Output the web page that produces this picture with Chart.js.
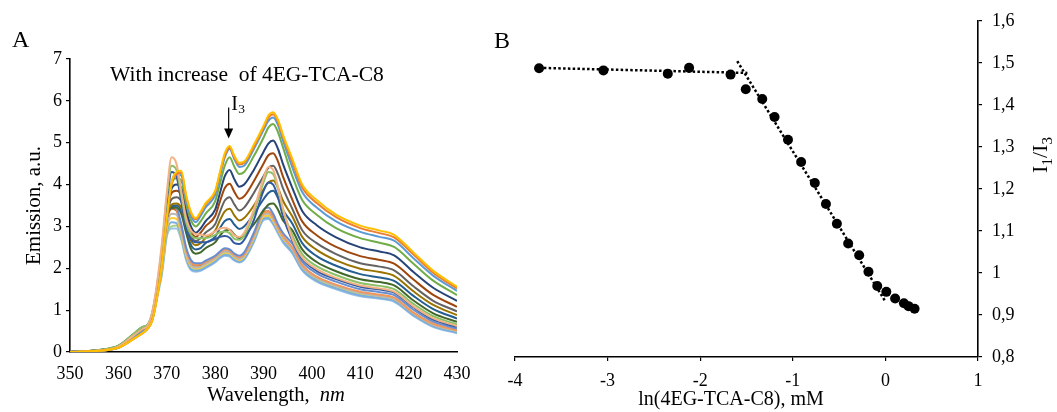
<!DOCTYPE html>
<html>
<head>
<meta charset="utf-8">
<title>Pyrene emission and I1/I3 ratio</title>
<script src="https://cdn.jsdelivr.net/npm/chart.js@4.4.1/dist/chart.umd.min.js"></script>
<style>
    html, body { margin: 0; padding: 0; background: #fff; }
    #wrap { position: relative; width: 1057px; height: 412px; overflow: hidden; }
    #panelA { position: absolute; left: 0; top: 0; }
    #panelB { position: absolute; left: 490px; top: 0; }
</style>
</head>
<body>
<div id="wrap">
    <canvas id="panelA" width="485" height="412"></canvas>
    <canvas id="panelB" width="567" height="412"></canvas>
</div>
<script>
const SERIF = "'Liberation Serif', 'Times New Roman', serif";

// Panel A - emission spectra (nm -> a.u.)
const wavelengths = [350, 356, 360, 363, 365, 366, 367, 368, 369, 370, 371, 372, 373, 374, 375, 376, 377, 378, 380, 381,
    382, 383, 384, 385, 386, 388, 390, 391, 392, 393, 394, 396, 398, 401, 405, 410, 414, 417, 421, 425, 430];

const spectrum01 = [0, 0.03, 0.1, 0.3, 0.45, 0.55, 0.75, 1.3, 2.1, 3.2, 4.05, 4.3, 4.33, 3.75, 3.35, 3.2, 3.35, 3.55, 3.85, 4.3,
    4.75, 4.92, 4.68, 4.52, 4.55, 4.95, 5.4, 5.65, 5.73, 5.55, 5.2, 4.6, 4.0, 3.63, 3.28, 3.02, 2.9, 2.8, 2.38, 1.95, 1.56];
const spectrum02 = [0, 0.03, 0.1, 0.3, 0.45, 0.55, 0.75, 1.3, 2.1, 3.15, 4.0, 4.25, 4.28, 3.72, 3.32, 3.17, 3.32, 3.52, 3.82, 4.27,
    4.7, 4.88, 4.64, 4.48, 4.52, 4.9, 5.36, 5.6, 5.68, 5.5, 5.15, 4.52, 3.93, 3.56, 3.22, 2.96, 2.84, 2.74, 2.33, 1.9, 1.52];
const spectrum03 = [0, 0.03, 0.1, 0.32, 0.48, 0.57, 0.78, 1.35, 2.15, 3.2, 4.05, 4.25, 4.22, 3.65, 3.25, 3.1, 3.25, 3.45, 3.75, 4.2,
    4.65, 4.85, 4.6, 4.42, 4.45, 4.85, 5.3, 5.52, 5.6, 5.42, 5.06, 4.4, 3.82, 3.45, 3.12, 2.87, 2.75, 2.66, 2.24, 1.83, 1.46];
const spectrum04 = [0, 0.04, 0.12, 0.35, 0.55, 0.6, 0.8, 1.4, 2.2, 3.2, 4.0, 4.15, 4.1, 3.55, 3.15, 3.0, 3.12, 3.3, 3.6, 4.02,
    4.45, 4.65, 4.42, 4.25, 4.3, 4.68, 5.12, 5.36, 5.45, 5.25, 4.9, 4.19, 3.63, 3.28, 2.96, 2.72, 2.61, 2.51, 2.11, 1.71, 1.36];
const spectrum05 = [0, 0.04, 0.12, 0.36, 0.55, 0.62, 0.82, 1.45, 2.3, 3.3, 3.9, 4.0, 3.92, 3.4, 3.0, 2.85, 2.95, 3.12, 3.4, 3.8,
    4.2, 4.35, 4.12, 3.95, 4.0, 4.35, 4.78, 4.98, 5.05, 4.85, 4.5, 3.91, 3.37, 3.03, 2.74, 2.5, 2.4, 2.31, 1.91, 1.54, 1.22];
const spectrum06 = [0, 0.04, 0.13, 0.38, 0.56, 0.62, 0.85, 1.5, 2.35, 3.3, 3.8, 3.85, 3.75, 3.25, 2.88, 2.75, 2.85, 3.0, 3.25, 3.6,
    3.92, 4.02, 3.82, 3.66, 3.72, 4.08, 4.5, 4.7, 4.75, 4.55, 4.2, 3.63, 3.12, 2.79, 2.51, 2.29, 2.2, 2.11, 1.73, 1.37, 1.08];
const spectrum07 = [0, 0.04, 0.13, 0.38, 0.56, 0.62, 0.85, 1.5, 2.35, 3.25, 3.65, 3.7, 3.6, 3.12, 2.78, 2.65, 2.72, 2.85, 3.05, 3.35,
    3.62, 3.7, 3.52, 3.38, 3.45, 3.8, 4.2, 4.4, 4.45, 4.25, 3.92, 3.41, 2.91, 2.6, 2.34, 2.12, 2.04, 1.95, 1.57, 1.23, 0.97];
const spectrum08 = [0, 0.04, 0.14, 0.4, 0.58, 0.63, 0.86, 1.5, 2.35, 3.2, 3.52, 3.55, 3.45, 3.0, 2.66, 2.55, 2.6, 2.72, 2.9, 3.15,
    3.36, 3.42, 3.26, 3.14, 3.2, 3.5, 3.88, 4.05, 4.1, 3.92, 3.62, 3.23, 2.75, 2.44, 2.19, 1.99, 1.91, 1.82, 1.45, 1.13, 0.88];
const spectrum09 = [0, 0.04, 0.14, 0.4, 0.58, 0.63, 0.86, 1.5, 2.35, 3.2, 3.48, 3.5, 3.38, 2.92, 2.56, 2.45, 2.48, 2.6, 2.75, 2.96,
    3.13, 3.18, 3.04, 2.94, 3.0, 3.3, 3.65, 3.8, 3.85, 3.68, 3.4, 3.06, 2.6, 2.29, 2.06, 1.86, 1.78, 1.7, 1.34, 1.03, 0.8];
const spectrum10 = [0, 0.05, 0.15, 0.42, 0.6, 0.64, 0.88, 1.52, 2.38, 3.2, 3.44, 3.45, 3.3, 2.85, 2.46, 2.35, 2.38, 2.48, 2.62, 2.78,
    2.9, 2.92, 2.8, 2.72, 2.78, 3.05, 3.38, 3.52, 3.55, 3.4, 3.15, 2.9, 2.45, 2.15, 1.93, 1.74, 1.67, 1.59, 1.23, 0.93, 0.72];
const spectrum11 = [0, 0.04, 0.13, 0.38, 0.55, 0.62, 0.95, 1.65, 2.6, 3.8, 4.65, 4.5, 3.85, 3.2, 2.9, 2.82, 2.8, 2.78, 2.88, 2.95,
    2.97, 2.92, 2.78, 2.75, 2.85, 3.4, 4.15, 4.42, 4.35, 3.95, 3.45, 2.69, 2.26, 1.98, 1.77, 1.59, 1.52, 1.44, 1.09, 0.81, 0.62];
const spectrum12 = [0, 0.05, 0.15, 0.42, 0.6, 0.65, 0.95, 1.6, 2.5, 3.7, 4.45, 4.35, 3.75, 3.1, 2.8, 2.72, 2.72, 2.72, 2.8, 2.86,
    2.88, 2.84, 2.7, 2.68, 2.78, 3.32, 4.05, 4.3, 4.25, 3.9, 3.4, 2.78, 2.34, 2.05, 1.84, 1.65, 1.58, 1.5, 1.15, 0.86, 0.66];
const spectrum13 = [0, 0.04, 0.14, 0.4, 0.57, 0.63, 0.92, 1.55, 2.4, 3.55, 4.3, 4.2, 3.6, 3.0, 2.7, 2.62, 2.62, 2.62, 2.7, 2.75,
    2.77, 2.73, 2.6, 2.58, 2.68, 3.15, 3.85, 4.05, 4.0, 3.7, 3.25, 2.65, 2.23, 1.94, 1.74, 1.56, 1.49, 1.42, 1.07, 0.78, 0.6];
const spectrum14 = [0, 0.04, 0.13, 0.38, 0.56, 0.62, 0.88, 1.5, 2.2, 3.2, 3.5, 3.45, 3.05, 2.5, 2.2, 2.12, 2.12, 2.18, 2.3, 2.4,
    2.48, 2.45, 2.35, 2.3, 2.38, 2.85, 3.4, 3.45, 3.3, 3.05, 2.85, 2.58, 2.16, 1.88, 1.68, 1.5, 1.43, 1.36, 1.01, 0.73, 0.56];
const spectrum15 = [0, 0.03, 0.12, 0.35, 0.52, 0.6, 0.85, 1.48, 2.2, 3.15, 3.5, 3.42, 3.0, 2.45, 2.15, 2.08, 2.1, 2.15, 2.28, 2.38,
    2.45, 2.42, 2.32, 2.26, 2.33, 2.8, 3.32, 3.35, 3.22, 2.98, 2.78, 2.49, 2.08, 1.8, 1.61, 1.44, 1.37, 1.3, 0.94, 0.68, 0.52];
const spectrum16 = [0, 0.03, 0.12, 0.34, 0.5, 0.58, 0.82, 1.42, 2.1, 3.0, 3.3, 3.28, 2.9, 2.38, 2.08, 2.02, 2.04, 2.1, 2.24, 2.34,
    2.4, 2.38, 2.28, 2.22, 2.3, 2.75, 3.28, 3.3, 3.18, 2.95, 2.75, 2.45, 2.04, 1.77, 1.58, 1.41, 1.34, 1.27, 0.93, 0.66, 0.5];
const spectrum17 = [0, 0.03, 0.11, 0.33, 0.5, 0.57, 0.8, 1.38, 2.0, 2.95, 3.2, 3.18, 2.82, 2.32, 2.05, 2.0, 2.02, 2.08, 2.22, 2.32,
    2.38, 2.36, 2.26, 2.2, 2.28, 2.72, 3.24, 3.26, 3.14, 2.92, 2.72, 2.45, 2.04, 1.77, 1.58, 1.41, 1.34, 1.27, 0.93, 0.66, 0.5];
const spectrum18 = [0, 0.03, 0.11, 0.32, 0.48, 0.56, 0.78, 1.35, 1.95, 2.85, 3.1, 3.08, 2.75, 2.25, 1.98, 1.94, 1.96, 2.02, 2.16, 2.26,
    2.32, 2.3, 2.2, 2.15, 2.22, 2.65, 3.18, 3.2, 3.08, 2.86, 2.66, 2.37, 1.97, 1.7, 1.52, 1.35, 1.29, 1.22, 0.88, 0.62, 0.46];
const spectrum19 = [0, 0.04, 0.13, 0.37, 0.55, 0.6, 0.8, 1.35, 1.9, 2.8, 3.0, 3.02, 2.72, 2.25, 2.0, 1.96, 1.98, 2.04, 2.18, 2.28,
    2.34, 2.32, 2.22, 2.17, 2.24, 2.68, 3.22, 3.24, 3.12, 2.9, 2.7, 2.41, 2.01, 1.73, 1.55, 1.38, 1.31, 1.24, 0.9, 0.64, 0.48];
const spectrum20 = [0, 0.03, 0.11, 0.33, 0.5, 0.58, 0.84, 1.45, 2.15, 3.1, 3.42, 3.38, 2.98, 2.42, 2.12, 2.06, 2.08, 2.14, 2.26, 2.34,
    2.4, 2.38, 2.28, 2.24, 2.32, 2.8, 3.33, 3.36, 3.22, 2.98, 2.76, 2.41, 2.01, 1.73, 1.55, 1.38, 1.31, 1.24, 0.9, 0.64, 0.48];
const spectrum21 = [0, 0.03, 0.1, 0.3, 0.46, 0.54, 0.76, 1.3, 1.85, 2.75, 2.95, 2.95, 2.68, 2.2, 1.96, 1.92, 1.94, 2.0, 2.14, 2.24,
    2.3, 2.28, 2.18, 2.14, 2.2, 2.62, 3.15, 3.18, 3.05, 2.83, 2.62, 2.35, 1.95, 1.68, 1.5, 1.33, 1.27, 1.2, 0.86, 0.6, 0.45];

const spectra = [spectrum01, spectrum02, spectrum11, spectrum12, spectrum13, spectrum03, spectrum04, spectrum05, spectrum06,
    spectrum07, spectrum08, spectrum09, spectrum10, spectrum14, spectrum15, spectrum16, spectrum17, spectrum18, spectrum19,
    spectrum20, spectrum21];
const spectrumColors = ['#FFC000', '#ED7D31', '#F4B183', '#8CC168', '#335AA1', '#5B9BD5', '#70AD47', '#264478', '#9E480E',
    '#636363', '#997300', '#255E91', '#43682B', '#698ED0', '#F1975A', '#B7B7B7', '#FFCD33', '#7CAFDD', '#A9D18E',
    '#D26012', '#9DC3E6'];

const i3Wavelength = 382.8;

// Panel B - I1/I3 against ln(concentration)
const lnConc = [-3.74, -3.045, -2.35, -2.12, -1.672, -1.508, -1.33, -1.197, -1.052, -0.91, -0.762, -0.642, -0.524,
    -0.402, -0.283, -0.183, -0.088, 0.01, 0.105, 0.2, 0.25, 0.315];
const ratioI1I3 = [1.487, 1.482, 1.474, 1.488, 1.472, 1.437, 1.414, 1.371, 1.317, 1.264, 1.214, 1.164, 1.117,
    1.07, 1.042, 1.003, 0.969, 0.955, 0.939, 0.928, 0.921, 0.915];
const trendFlatX = [-3.74, -1.49];
const trendFlatY = [1.488, 1.476];
const trendSlopeX = [-1.6, 0.0];
const trendSlopeY = [1.504, 0.932];

function toPoints(xs, ys) {
    return xs.map(function(x, i) { return { x: x, y: ys[i] }; });
}

function axisFont(size) {
    return { family: SERIF, size: size };
}

// Texts with subscripts / italics are drawn by hand
const panelAText = {
    id: 'panelAText',
    afterDraw: function(chart) {
        const ctx = chart.ctx;
        const xs = chart.scales.x;
        const ys = chart.scales.y;
        ctx.save();
        ctx.fillStyle = '#000';
        ctx.strokeStyle = '#000';
        ctx.textBaseline = 'alphabetic';

        ctx.font = '24px ' + SERIF;
        ctx.fillText('A', 12, 47);

        ctx.font = '21.5px ' + SERIF;
        ctx.fillText('With increase  of 4EG-TCA-C8', 110, 81);

        // I3 marker
        const ax = xs.getPixelForValue(i3Wavelength);
        const tipY = ys.getPixelForValue(5.1);
        const topY = ys.getPixelForValue(5.84);
        ctx.lineWidth = 1.2;
        ctx.beginPath();
        ctx.moveTo(ax, topY);
        ctx.lineTo(ax, tipY - 8);
        ctx.stroke();
        ctx.beginPath();
        ctx.moveTo(ax - 4.5, tipY - 10);
        ctx.lineTo(ax + 4.5, tipY - 10);
        ctx.lineTo(ax, tipY);
        ctx.closePath();
        ctx.fill();
        ctx.font = '20px ' + SERIF;
        ctx.fillText('I', ax + 2.5, topY + 2);
        ctx.font = '13.5px ' + SERIF;
        ctx.fillText('3', ax + 9.5, topY + 5);

        // axis titles
        ctx.save();
        ctx.translate(40, (ys.top + ys.bottom) / 2);
        ctx.rotate(-Math.PI / 2);
        ctx.textAlign = 'center';
        ctx.font = '21px ' + SERIF;
        ctx.fillText('Emission, a.u.', 0, 0);
        ctx.restore();

        ctx.font = '20.5px ' + SERIF;
        const w1 = ctx.measureText('Wavelength,  ').width;
        ctx.fillText('Wavelength,  ', 207, 401);
        ctx.font = 'italic 20.5px ' + SERIF;
        ctx.fillText('nm', 207 + w1, 401);
        ctx.restore();
    }
};

const panelBText = {
    id: 'panelBText',
    afterDraw: function(chart) {
        const ctx = chart.ctx;
        ctx.save();
        ctx.fillStyle = '#000';
        ctx.textBaseline = 'alphabetic';

        ctx.font = '24px ' + SERIF;
        ctx.fillText('B', 4, 48);

        ctx.font = '20px ' + SERIF;
        ctx.textAlign = 'center';
        ctx.fillText('ln(4EG-TCA-C8), mM', 241, 405);
        ctx.textAlign = 'left';

        // I1/I3, rotated
        const parts = [['I', 22, 0], ['1', 15, 5], ['/', 22, 0], ['I', 22, 0], ['3', 15, 5]];
        let total = 0;
        parts.forEach(function(p) {
            ctx.font = p[1] + 'px ' + SERIF;
            total += ctx.measureText(p[0]).width;
        });
        ctx.translate(557, 155);
        ctx.rotate(-Math.PI / 2);
        let px = -total / 2;
        parts.forEach(function(p) {
            ctx.font = p[1] + 'px ' + SERIF;
            ctx.fillText(p[0], px, p[2]);
            px += ctx.measureText(p[0]).width;
        });
        ctx.restore();
    }
};

Chart.defaults.color = '#000';
Chart.defaults.font.family = SERIF;

// Panel A chart
new Chart(document.getElementById('panelA'), {
    type: 'line',
    data: {
        datasets: spectra.map(function(s, i) {
            return {
                data: toPoints(wavelengths, s),
                borderColor: spectrumColors[i],
                borderWidth: 2,
                pointRadius: 0,
                fill: false,
                cubicInterpolationMode: 'monotone'
            };
        })
    },
    options: {
        responsive: false,
        devicePixelRatio: 1,
        animation: false,
        events: [],
        layout: { padding: { left: 30, right: 28, top: 59, bottom: 30 } },
        plugins: { legend: { display: false }, tooltip: { enabled: false } },
        scales: {
            x: {
                type: 'linear',
                min: 350,
                max: 430,
                afterFit: function(scale) { scale.height = 30; },
                ticks: { stepSize: 10, padding: 11, autoSkip: false, maxRotation: 0, color: '#000', font: axisFont(18) },
                grid: { display: false, drawTicks: false },
                border: { display: true, color: '#000', width: 1.6 }
            },
            y: {
                min: 0,
                max: 7,
                afterFit: function(scale) { scale.width = 40; },
                ticks: { stepSize: 1, padding: 4, color: '#000', font: axisFont(18) },
                grid: { drawOnChartArea: false, tickLength: 4, color: '#000', lineWidth: 1.2 },
                border: { display: true, color: '#000', width: 1.6 }
            }
        }
    },
    plugins: [panelAText]
});

// Panel B chart
new Chart(document.getElementById('panelB'), {
    type: 'scatter',
    data: {
        datasets: [
            {
                data: toPoints(lnConc, ratioI1I3),
                backgroundColor: '#000',
                borderWidth: 0,
                pointRadius: 5,
                showLine: false
            },
            {
                data: toPoints(trendFlatX, trendFlatY),
                showLine: true,
                borderColor: '#000',
                borderWidth: 2.5,
                borderDash: [2.5, 2.3],
                borderCapStyle: 'butt',
                pointRadius: 0
            },
            {
                data: toPoints(trendSlopeX, trendSlopeY),
                showLine: true,
                borderColor: '#000',
                borderWidth: 2.5,
                borderDash: [2.5, 2.3],
                borderCapStyle: 'butt',
                pointRadius: 0
            }
        ]
    },
    options: {
        responsive: false,
        devicePixelRatio: 1,
        animation: false,
        events: [],
        layout: { padding: { left: 25, right: 34, top: 19, bottom: 25 } },
        plugins: { legend: { display: false }, tooltip: { enabled: false } },
        scales: {
            x: {
                type: 'linear',
                min: -4,
                max: 1,
                afterFit: function(scale) { scale.height = 30; },
                ticks: { stepSize: 1, padding: 9, autoSkip: false, maxRotation: 0, color: '#000', font: axisFont(18) },
                grid: { drawOnChartArea: false, tickLength: 4, color: '#000', lineWidth: 1.2 },
                border: { display: true, color: '#000', width: 1.6 }
            },
            y: {
                position: 'right',
                min: 0.8,
                max: 1.6,
                afterFit: function(scale) { scale.width = 45; },
                ticks: {
                    stepSize: 0.1,
                    padding: 10,
                    color: '#000',
                    font: axisFont(18),
                    callback: function(v) { return String(Math.round(v * 10) / 10).replace('.', ','); }
                },
                grid: { drawOnChartArea: false, tickLength: 4, color: '#000', lineWidth: 1.2 },
                border: { display: true, color: '#000', width: 1.6 }
            }
        }
    },
    plugins: [panelBText]
});
</script>
</body>
</html>
